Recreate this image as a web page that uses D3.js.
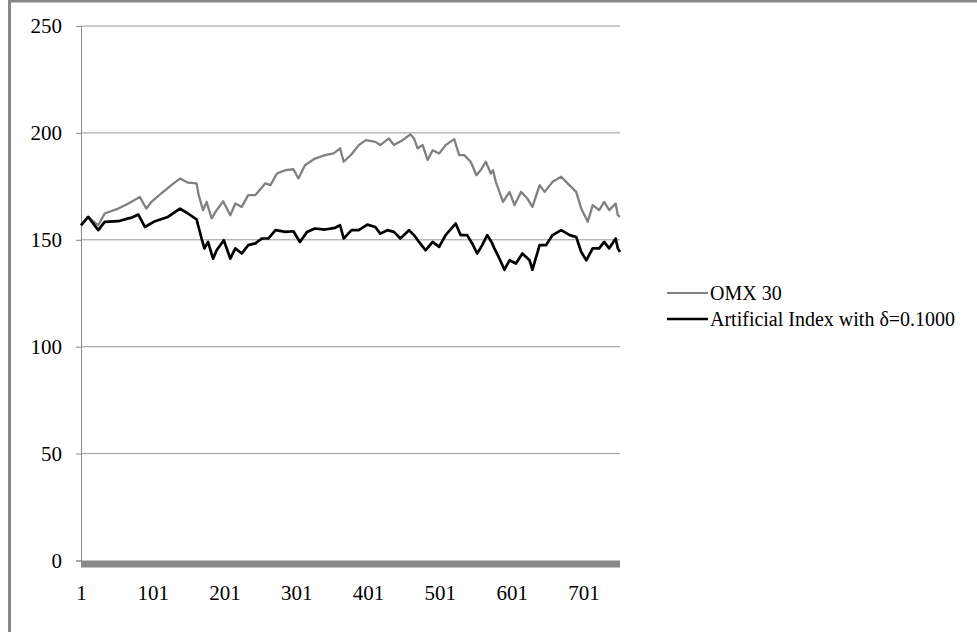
<!DOCTYPE html>
<html>
<head>
<meta charset="utf-8">
<script src="https://cdn.jsdelivr.net/npm/d3@7"></script>
<style>
  body { margin: 0; background: #fff; }
  text { font-family: "Liberation Serif", "Times New Roman", serif; }
</style>
</head>
<body>
<svg id="chart"></svg>
<script>
// readings (day index, value)
const omxDays = [1, 11, 25, 34, 53, 67, 83, 92, 99, 113, 127, 139, 150, 162, 165, 171, 176, 183, 190,
  199, 209, 216, 225, 234, 244, 258, 265, 274, 286, 297, 304, 313, 327, 341, 353, 362, 367, 378,
  388, 398, 411, 418, 430, 437, 449, 460, 465, 470, 477, 484, 491, 500, 509, 521, 528, 535, 544,
  552, 558, 565, 572, 575, 579, 589, 598, 605, 614, 623, 630, 640, 647, 658, 670, 679, 691, 698,
  707, 714, 723, 730, 737, 746, 749, 752];
const omxVals = [157, 160.7, 156.8, 162.3, 164.6, 167, 170, 164.6, 167.7, 171.7, 175.6, 178.7, 176.7,
  176.4, 170.9, 163.9, 167.7, 160, 163.9, 168, 161.5, 167, 165.4, 170.9, 170.9, 176.4, 175.6, 181,
  182.6, 183, 178.7, 184.9, 188, 189.6, 190.4, 192.8, 186.5, 190, 194.3, 196.6, 195.8, 194.3, 197.4,
  194.3, 196.6, 199.3, 197.4, 192.8, 194.3, 187.3, 191.9, 190.4, 194.3, 197.1, 189.6, 189.6, 186.5,
  180.2, 182.6, 186.5, 181, 182.6, 177.1, 167.7, 172.4, 166.2, 172.4, 169.3, 165.4, 175.6, 172.4,
  177.1, 179.5, 176.4, 172.4, 164.6, 158.4, 166.2, 163.9, 167.7, 163.9, 167, 161.5, 160.7];

const artDays = [1, 11, 25, 34, 53, 67, 72, 81, 90, 104, 122, 139, 150, 162, 169, 173, 178, 185, 190,
  200, 209, 216, 225, 234, 244, 253, 262, 272, 286, 297, 306, 316, 327, 341, 355, 362, 367, 378,
  388, 400, 411, 418, 428, 437, 446, 458, 465, 472, 481, 491, 500, 509, 523, 530, 539, 546, 553,
  560, 567, 573, 577, 584, 591, 598, 607, 616, 626, 630, 640, 649, 658, 670, 682, 691, 698, 705,
  714, 723, 730, 737, 746, 749, 752];
const artVals = [156.8, 160.7, 154.5, 158.4, 158.7, 160, 160.4, 161.8, 156, 158.7, 160.7, 164.6, 162.3,
  159.6, 150.6, 146, 149, 141.2, 145.1, 149.8, 141.2, 146, 143.6, 147.5, 148.3, 150.6, 150.6, 154.5,
  153.7, 154, 149, 153.7, 155.3, 154.8, 155.6, 156.8, 150.6, 154.5, 154.5, 157.1, 156, 152.9, 154.5,
  153.7, 150.6, 154.5, 152.2, 149, 145.1, 149, 146.7, 152.2, 157.6, 152.2, 152.2, 148.3, 143.6,
  147.5, 152.2, 149, 146, 141.2, 136, 140.4, 138.9, 143.6, 140.4, 136, 147.5, 147.5, 152.2, 154.5,
  152.2, 151.3, 144.3, 140.4, 146, 146, 149, 146, 150.6, 146, 144.3];

const yTicks = [0, 50, 100, 150, 200, 250];
const xTicks = [1, 101, 201, 301, 401, 501, 601, 701];
const seriesNames = ['OMX 30', 'Artificial Index with \u03b4=0.1000'];
const seriesColors = ['#808080', '#000000'];

const width = 977;
const height = 632;
const svg = d3.select('#chart').attr('width', width).attr('height', height);

svg.append('rect').attr('width', width).attr('height', height).attr('fill', '#fff');

// outer frame (only top and left edges show)
svg.append('line').attr('x1', 9.5).attr('y1', 0).attr('x2', 9.5).attr('y2', height)
  .style('stroke', '#888').style('stroke-width', 3);
svg.append('line').attr('x1', 8).attr('y1', 1).attr('x2', width).attr('y2', 1)
  .style('stroke', '#888').style('stroke-width', 3);

const x = d3.scaleLinear().domain([1, 752]).range([81, 620]);
const y = d3.scaleLinear().domain([0, 250]).range([560.5, 26]);

// gridlines
svg.append('g')
  .selectAll('line')
  .data(yTicks.filter((d) => d > 0))
  .enter()
  .append('line')
  .attr('x1', x(1))
  .attr('x2', 620)
  .attr('y1', (d) => y(d))
  .attr('y2', (d) => y(d))
  .style('stroke', '#9a9a9a')
  .style('stroke-width', 1);

// y axis
const yAxis = svg.append('g')
  .attr('transform', `translate(${x(1)},0)`)
  .call(d3.axisLeft(y).tickValues(yTicks).tickSize(5).tickPadding(14).tickFormat(d3.format('d')));
yAxis.select('.domain').style('stroke', '#8a8a8a');
yAxis.selectAll('.tick line').style('stroke', '#8a8a8a');
yAxis.selectAll('text').style('font-size', '21px').style('fill', '#000')
  .style('font-family', '"Liberation Serif", serif');

// thick band along zero
svg.append('rect')
  .attr('x', x(1))
  .attr('y', y(0))
  .attr('width', 620 - x(1))
  .attr('height', 7)
  .attr('fill', '#888');

// x axis labels
const xAxis = svg.append('g')
  .attr('transform', `translate(0,${y(0) + 22})`)
  .call(d3.axisBottom(x).tickValues(xTicks).tickSize(0).tickFormat(d3.format('d')));
xAxis.select('.domain').remove();
xAxis.selectAll('text').style('font-size', '21px').style('fill', '#000')
  .style('font-family', '"Liberation Serif", serif');

// series
const line = d3.line().x((d) => x(d[0])).y((d) => y(d[1]));
const omx = d3.zip(omxDays, omxVals);
const art = d3.zip(artDays, artVals);

svg.append('path').datum(omx).attr('d', line)
  .attr('fill', 'none').attr('stroke', seriesColors[0]).attr('stroke-width', 2.3)
  .attr('stroke-linejoin', 'round');
svg.append('path').datum(art).attr('d', line)
  .attr('fill', 'none').attr('stroke', seriesColors[1]).attr('stroke-width', 2.7)
  .attr('stroke-linejoin', 'round');

// legend
const legend = svg.append('g').attr('transform', 'translate(667,293)');
seriesNames.forEach((name, i) => {
  legend.append('line')
    .attr('x1', 0).attr('x2', 41)
    .attr('y1', i * 26).attr('y2', i * 26)
    .style('stroke', seriesColors[i])
    .style('stroke-width', i === 0 ? 2 : 2.5);
  legend.append('text')
    .attr('x', 43)
    .attr('y', i * 26 + 7)
    .style('font-size', '20px')
    .text(name);
});
</script>
</body>
</html>
